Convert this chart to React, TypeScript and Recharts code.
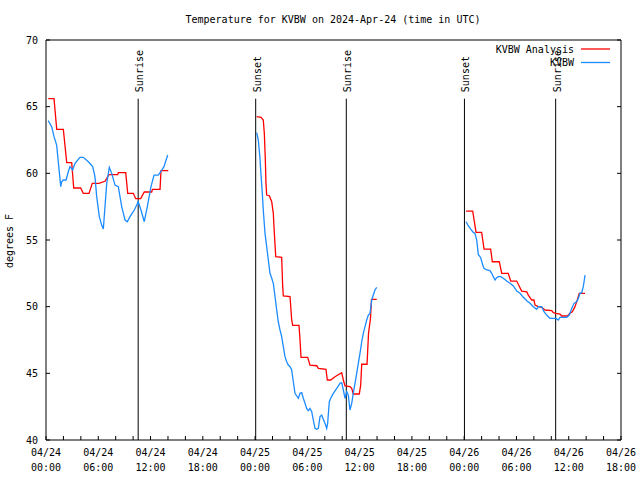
import React from 'react';
import { LineChart, Line, XAxis, YAxis, ReferenceLine, Legend } from 'recharts';

// hours since 04/24 00:00 UTC, temperature in F
const analysisDay1: [number, number][] = [
  [0.26, 65.6], [0.92, 65.6], [1.23, 63.3], [1.99, 63.3], [2.38, 60.8], [2.95, 60.8],
  [3.18, 58.9], [3.98, 58.9], [4.28, 58.5], [4.94, 58.5], [5.31, 59.25], [6.08, 59.25],
  [6.77, 59.4], [7.23, 59.9], [8.23, 59.9], [8.3, 60.05], [9.15, 60.05], [9.38, 58.5],
  [10.02, 58.5], [10.3, 58.1], [10.87, 58.1], [11.28, 58.6], [12.13, 58.6], [12.22, 58.8],
  [13.09, 58.8], [13.2, 60.2], [14.04, 60.2],
];
const analysisDay2: [number, number][] = [
  [24.18, 64.25], [24.68, 64.2], [24.94, 64.0], [25.06, 63.0], [25.17, 61.13], [25.25, 59.25],
  [25.33, 58.37], [25.63, 58.32], [25.91, 57.87], [26.09, 57.0], [26.21, 55.5], [26.37, 53.75],
  [27.05, 53.7], [27.17, 51.5], [27.24, 50.8], [28.01, 50.75], [28.2, 49.0], [28.32, 48.6],
  [29.04, 48.6], [29.16, 47.5], [29.27, 46.2], [30.04, 46.2], [30.3, 45.62], [31.07, 45.57],
  [31.26, 45.37], [32.14, 45.3], [32.29, 44.5], [32.68, 44.5], [33.17, 44.75], [33.94, 45.05],
  [34.13, 44.5], [34.32, 44.05], [34.89, 44.0], [35.09, 43.88], [35.27, 43.45], [35.96, 43.45],
  [36.12, 44.12], [36.24, 45.68], [36.85, 45.68], [37.02, 48.0], [37.25, 49.15], [37.36, 50.55],
  [37.96, 50.55],
];
const analysisDay3: [number, number][] = [
  [48.21, 57.17], [48.98, 57.17], [49.36, 55.57], [50.01, 55.57], [50.28, 54.32], [51.04, 54.32],
  [51.23, 53.37], [52.03, 53.37], [52.31, 52.5], [53.06, 52.5], [53.34, 51.92], [54.03, 51.92],
  [54.41, 51.42], [54.6, 51.17], [55.18, 51.12], [55.36, 50.87], [55.75, 50.5], [56.01, 50.5],
  [56.13, 50.12], [56.51, 50.0], [56.9, 49.95], [57.28, 49.75], [58.05, 49.7], [58.23, 49.55],
  [58.54, 49.5], [59.0, 49.45], [59.19, 49.3], [59.84, 49.3], [60.15, 49.5], [60.41, 49.62],
  [60.72, 50.0], [60.98, 50.5], [61.21, 51.0], [61.87, 51.0],
];

const obsDay1: [number, number][] = [
  [0.26, 63.95], [0.65, 63.5], [0.92, 62.75], [1.23, 62.1], [1.41, 60.87], [1.69, 59.0],
  [1.8, 59.37], [1.99, 59.5], [2.3, 59.5], [2.56, 60.12], [2.75, 60.5], [3.06, 60.25],
  [3.33, 60.75], [3.9, 61.2], [4.28, 61.2], [4.86, 60.87], [5.36, 60.5], [5.62, 59.75],
  [5.82, 58.25], [6.12, 56.75], [6.39, 56.12], [6.58, 55.82], [6.77, 57.5], [6.97, 59.25],
  [7.27, 60.45], [7.54, 60.0], [7.92, 59.12], [8.3, 59.0], [8.69, 57.5], [9.07, 56.5],
  [9.33, 56.37], [9.64, 56.75], [10.14, 57.25], [10.59, 57.87], [10.9, 57.25], [11.28, 56.37],
  [11.63, 57.5], [12.05, 59.0], [12.4, 59.87], [12.89, 59.87], [13.17, 60.12], [13.54, 60.5],
  [13.97, 61.37],
];
const obsDay2: [number, number][] = [
  [24.18, 63.05], [24.37, 62.5], [24.56, 61.13], [24.68, 59.87], [24.83, 58.5], [24.94, 57.25],
  [25.14, 55.5], [25.33, 54.5], [25.52, 53.5], [25.71, 52.5], [25.91, 52.13], [26.09, 51.75],
  [26.29, 50.75], [26.48, 49.75], [26.66, 48.87], [26.86, 48.25], [27.05, 47.75], [27.24, 47.0],
  [27.43, 46.25], [27.63, 45.87], [27.81, 45.62], [28.01, 45.5], [28.2, 45.25], [28.39, 44.37],
  [28.58, 43.5], [28.78, 43.3], [28.96, 43.13], [29.16, 43.5], [29.35, 43.55], [29.53, 43.13],
  [29.73, 42.75], [29.92, 42.37], [30.11, 42.2], [30.3, 42.37], [30.5, 42.12], [30.68, 41.5],
  [30.88, 40.87], [31.07, 40.8], [31.26, 40.87], [31.45, 41.75], [31.65, 41.87], [31.83, 41.55],
  [32.02, 41.25], [32.22, 40.87], [32.33, 41.25], [32.4, 41.87], [32.52, 42.87], [32.68, 43.13],
  [32.98, 43.5], [33.37, 43.87], [33.75, 44.25], [33.94, 44.3], [34.13, 43.75], [34.32, 43.13],
  [34.52, 43.62], [34.7, 43.37], [34.89, 42.25], [35.09, 42.75], [35.27, 43.5], [35.47, 44.25],
  [35.66, 45.0], [35.85, 45.75], [36.04, 46.5], [36.24, 47.37], [36.42, 48.0], [36.62, 48.5],
  [36.81, 49.0], [37.0, 49.37], [37.19, 49.5], [37.39, 50.5], [37.57, 50.87], [37.76, 51.25],
  [37.96, 51.45],
];
const obsDay3: [number, number][] = [
  [48.21, 56.37], [48.47, 56.07], [48.75, 55.82], [49.05, 55.57], [49.24, 55.5], [49.44, 55.0],
  [49.62, 53.92], [49.9, 53.67], [50.13, 53.12], [50.28, 52.87], [50.59, 52.75], [50.96, 52.7],
  [51.16, 52.5], [51.34, 52.25], [51.54, 52.0], [51.73, 52.17], [51.92, 52.25], [52.19, 52.25],
  [52.49, 52.13], [52.88, 51.92], [53.26, 51.75], [53.64, 51.55], [54.03, 51.17], [54.41, 51.0],
  [54.79, 50.7], [55.18, 50.45], [55.56, 50.25], [55.93, 50.0], [56.32, 49.8], [56.51, 50.0],
  [56.9, 50.0], [57.16, 49.62], [57.47, 49.37], [57.85, 49.12], [58.54, 49.12], [58.8, 49.0],
  [59.0, 49.2], [59.77, 49.2], [60.07, 49.37], [60.34, 49.87], [60.61, 50.25], [60.91, 50.37],
  [61.1, 50.62], [61.29, 51.0], [61.49, 51.05], [61.67, 51.5], [61.79, 52.0], [61.87, 52.37],
];

// no data between the three pieces
const gapHours = [19, 43];

const seriesNames = ['KVBW Analysis', 'KVBW'];

const sunHours = [10.58, 24.07, 34.47, 48.03, 58.5];
const sunLabels = ['Sunrise', 'Sunset', 'Sunrise', 'Sunset', 'Sunrise'];
const sunLineTop = 65.6;

const hourTicks = [0, 2, 4, 6, 8, 10, 12, 14, 16, 18, 20, 22, 24, 26, 28, 30, 32, 34, 36, 38, 40, 42, 44, 46, 48, 50, 52, 54, 56, 58, 60, 62, 64, 66];
const dayLabels = ['04/24', '04/25', '04/26'];
const tempTicks = [40, 45, 50, 55, 60, 65, 70];

const FONT = 'DejaVu Sans Mono, monospace';

const toRows = (parts: [number, number][][]) =>
  parts.flatMap((part, i) => {
    const rows: { hour: number; temp: number | null }[] = part.map(([hour, temp]) => ({ hour, temp }));
    if (i < gapHours.length) rows.push({ hour: gapHours[i], temp: null });
    return rows;
  });

const analysisRows = toRows([analysisDay1, analysisDay2, analysisDay3]);
const obsRows = toRows([obsDay1, obsDay2, obsDay3]);

const TimeTick = (props: any) => {
  const { x, y, payload } = props;
  const h = payload.value;
  if (h % 6 !== 0) return <g />;
  const day = dayLabels[Math.floor(h / 24)];
  const time = String(h % 24).padStart(2, '0') + ':00';
  return (
    <g>
      <text x={x} y={y + 16} textAnchor="middle" fontSize={10} fontFamily={FONT} fill="#000">{day}</text>
      <text x={x} y={y + 31} textAnchor="middle" fontSize={10} fontFamily={FONT} fill="#000">{time}</text>
    </g>
  );
};

const NoTick = () => <g />;

const SunLabel = (props: any) => {
  const { viewBox, text } = props;
  if (!viewBox) return null;
  const x = viewBox.x + 5;
  const y = viewBox.y - 6.5;
  return (
    <text transform={`translate(${x},${y}) rotate(-90)`} textAnchor="start" fontSize={10} fontFamily={FONT} fill="#000">
      {text}
    </text>
  );
};

const LegendBox = (props: any) => {
  const payload = [...(props.payload || [])].sort(
    (a: any, b: any) => seriesNames.indexOf(a.value) - seriesNames.indexOf(b.value)
  );
  return (
    <svg width={150} height={30} style={{ display: 'block' }}>
      {payload.map((p: any, i: number) => (
        <g key={p.value}>
          <text x={104} y={7 + i * 13.5 + 3.5} textAnchor="end" fontSize={10} fontFamily={FONT} fill="#000">{p.value}</text>
          <line x1={111} x2={140} y1={7 + i * 13.5} y2={7 + i * 13.5} stroke={p.color} strokeWidth={1.3} />
        </g>
      ))}
    </svg>
  );
};

export default function App() {
  return (
    <div style={{ position: 'absolute', left: 0, top: 0, width: 640, height: 480, background: '#fff' }}>
      <LineChart width={640} height={480} margin={{ top: 10, right: 0, bottom: 0, left: 0 }}>
        <XAxis
          xAxisId="b"
          dataKey="hour"
          type="number"
          domain={[0, 66]}
          allowDataOverflow
          ticks={hourTicks}
          interval={0}
          height={40}
          tickSize={-4}
          tickMargin={4}
          tick={<TimeTick />}
          axisLine={{ stroke: '#000' }}
          tickLine={{ stroke: '#000' }}
        />
        <XAxis
          xAxisId="t"
          orientation="top"
          type="number"
          domain={[0, 66]}
          allowDataOverflow
          ticks={hourTicks}
          interval={0}
          height={30}
          tickSize={-4}
          tick={<NoTick />}
          axisLine={{ stroke: '#000' }}
          tickLine={{ stroke: '#000' }}
        />
        <YAxis
          yAxisId="l"
          type="number"
          domain={[40, 70]}
          allowDataOverflow
          ticks={tempTicks}
          interval={0}
          width={46}
          tickSize={-4}
          tickMargin={12}
          tick={{ fill: '#000', fontSize: 10, fontFamily: FONT }}
          axisLine={{ stroke: '#000' }}
          tickLine={{ stroke: '#000' }}
        />
        <YAxis
          yAxisId="r"
          orientation="right"
          type="number"
          domain={[40, 70]}
          allowDataOverflow
          ticks={tempTicks}
          interval={0}
          width={19}
          tickSize={-4}
          tick={<NoTick />}
          axisLine={{ stroke: '#000' }}
          tickLine={{ stroke: '#000' }}
        />
        {sunHours.map((h, i) => (
          <ReferenceLine
            key={i}
            xAxisId="b"
            yAxisId="l"
            segment={[{ x: h, y: 40 }, { x: h, y: sunLineTop }]}
            stroke="#000"
            strokeWidth={1}
            label={<SunLabel text={sunLabels[i]} />}
          />
        ))}
        <Line
          xAxisId="b"
          yAxisId="l"
          data={analysisRows}
          dataKey="temp"
          name={seriesNames[0]}
          stroke="#ff0000"
          strokeWidth={1.3}
          dot={false}
          activeDot={false}
          isAnimationActive={false}
        />
        <Line
          xAxisId="b"
          yAxisId="l"
          data={obsRows}
          dataKey="temp"
          name={seriesNames[1]}
          stroke="#1b8cff"
          strokeWidth={1.3}
          dot={false}
          activeDot={false}
          isAnimationActive={false}
        />
        <Legend
          layout="vertical"
          align="center"
          verticalAlign="middle"
          content={<LegendBox />}
          wrapperStyle={{ left: 470, top: 42, width: 150 }}
        />
      </LineChart>
      <svg width={640} height={480} style={{ position: 'absolute', left: 0, top: 0, pointerEvents: 'none' }}>
        <text x={333} y={22.5} textAnchor="middle" fontSize={10} fontFamily={FONT} fill="#000">
          Temperature for KVBW on 2024-Apr-24 (time in UTC)
        </text>
        <text transform="translate(13,241) rotate(-90)" textAnchor="middle" fontSize={10} fontFamily={FONT} fill="#000">
          degrees F
        </text>
      </svg>
    </div>
  );
}
